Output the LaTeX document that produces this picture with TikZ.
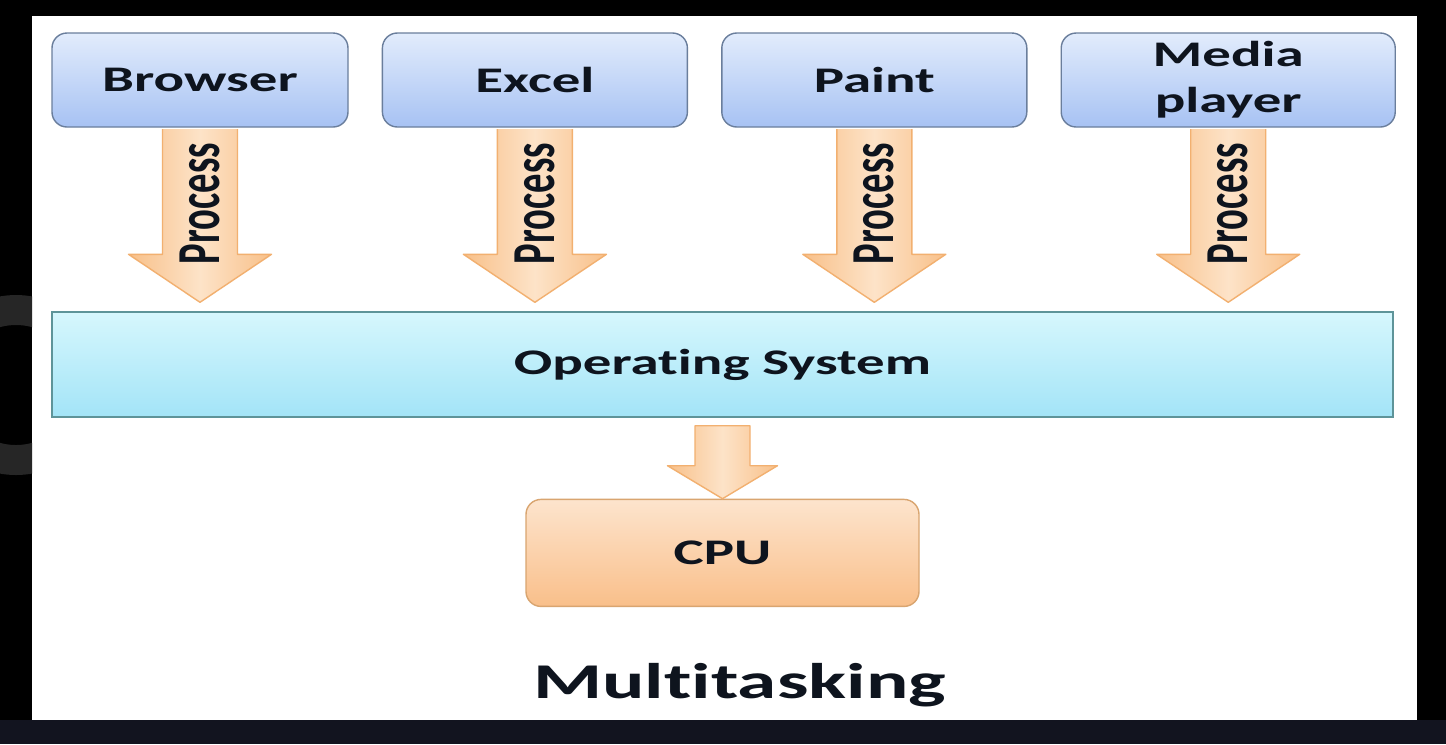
\documentclass[tikz,border=0pt]{standalone}
\usepackage{fontspec}
\setmainfont{Carlito}[FakeStretch=1.58, Ligatures=NoCommon]
\newfontfamily\procfont{Carlito}[Ligatures=NoCommon]
\usetikzlibrary{positioning,calc}

\definecolor{ink}{HTML}{0E141E}
\definecolor{apptop}{HTML}{E2ECFC}
\definecolor{appbottom}{HTML}{A7C2F3}
\definecolor{appedge}{HTML}{6A7E9C}
\definecolor{ostop}{HTML}{D6F7FD}
\definecolor{osbottom}{HTML}{A3E4F7}
\definecolor{osedge}{HTML}{5E9499}
\definecolor{cputop}{HTML}{FDE4CD}
\definecolor{cpubottom}{HTML}{F9BF8A}
\definecolor{cpuedge}{HTML}{D9A570}
\definecolor{arrowside}{HTML}{F8C089}
\definecolor{arrowmid}{HTML}{FDE3C8}
\definecolor{arrowedge}{HTML}{F2B070}
\definecolor{navy}{HTML}{12141F}
\definecolor{ringgray}{HTML}{262626}

\begin{document}
\begin{tikzpicture}[
			appnode/.style={rectangle, rounded corners=0.3cm, draw=appedge, top color=apptop, bottom color=appbottom, thick, minimum width=6.1cm, minimum height=1.88cm, align=center, text=ink, font=\bfseries\fontsize{20.5}{26}\selectfont},
			osnode/.style={rectangle, draw=osedge, top color=ostop, bottom color=osbottom, thick, minimum width=26.82cm, minimum height=2.1cm, text=ink, font=\bfseries\fontsize{20.5}{24}\selectfont},
			cpunode/.style={rectangle, rounded corners=0.3cm, draw=cpuedge, top color=cputop, bottom color=cpubottom, thick, minimum width=7.86cm, minimum height=2.14cm, text=ink, font=\bfseries\fontsize{20.5}{24}\selectfont},
			procarrow/.style={draw=arrowedge, left color=arrowside, right color=arrowside, middle color=arrowmid, thick, line join=round},
			proclabel/.style={rotate=90, yscale=1.58, inner sep=0pt, text=ink, font=\procfont\bfseries\fontsize{22}{26}\selectfont},
			titlenode/.style={inner sep=0pt, text=ink, font=\bfseries\fontsize{28.5}{34}\selectfont},
			node distance=0.66cm,
			]
			\useasboundingbox (0,0) rectangle (28.92,-14.88);
			%Frame
			\fill[black] (0,0) rectangle (28.92,-14.88);
			\fill[navy] (0,-14.4) rectangle (28.92,-14.88);
			\fill[white] (0.64,-0.32) rectangle (28.34,-14.4);
			\begin{scope}
				\clip (0,-0.32) rectangle (0.64,-14.4);
				\fill[ringgray, even odd rule] (0.32,-7.7) circle (1.8) circle (1.2);
			\end{scope}

			%Nodes
			\node[appnode, minimum width=5.92cm] (browser) at (4.0,-1.6) {Browser};
			\node[appnode] (excel)  [right=of browser] {Excel};
			\node[appnode] (paint)  [right=of excel]   {Paint};
			\node[appnode, minimum width=6.68cm] (media) [right=of paint] {Media\\player};

			\node[osnode]  (os)  at (14.45,-7.29)     {Operating System};
			\node[cpunode] (cpu) [below=1.62cm of os] {CPU};
			\node[titlenode, anchor=base] (title) at (14.79,-13.96) {Multitasking};

			%Arrows
			\foreach \app in {browser,excel,paint,media}{
				\draw[procarrow] ($(\app.south)+(-0.75,-0.03)$) -- ($(\app.south |- os.north)+(-0.75,1.14)$) -- ++(-0.68,0)
					-- ($(\app.south |- os.north)+(0,0.18)$) -- ($(\app.south |- os.north)+(1.43,1.14)$) -- ++(-0.68,0)
					-- ($(\app.south)+(0.75,-0.03)$);
				\node[proclabel, anchor=east] (proc-\app) at ($(\app.south)+(0,-0.3)$) {Process};
			}
			\draw[procarrow] ($(os.south -| cpu.north)+(-0.55,-0.16)$) -- ($(cpu.north)+(-0.55,0.66)$) -- ++(-0.55,0)
				-- (cpu.north) -- ($(cpu.north)+(1.1,0.66)$) -- ++(-0.55,0)
				-- ($(os.south -| cpu.north)+(0.55,-0.16)$) -- cycle;
		\end{tikzpicture}
\end{document}
